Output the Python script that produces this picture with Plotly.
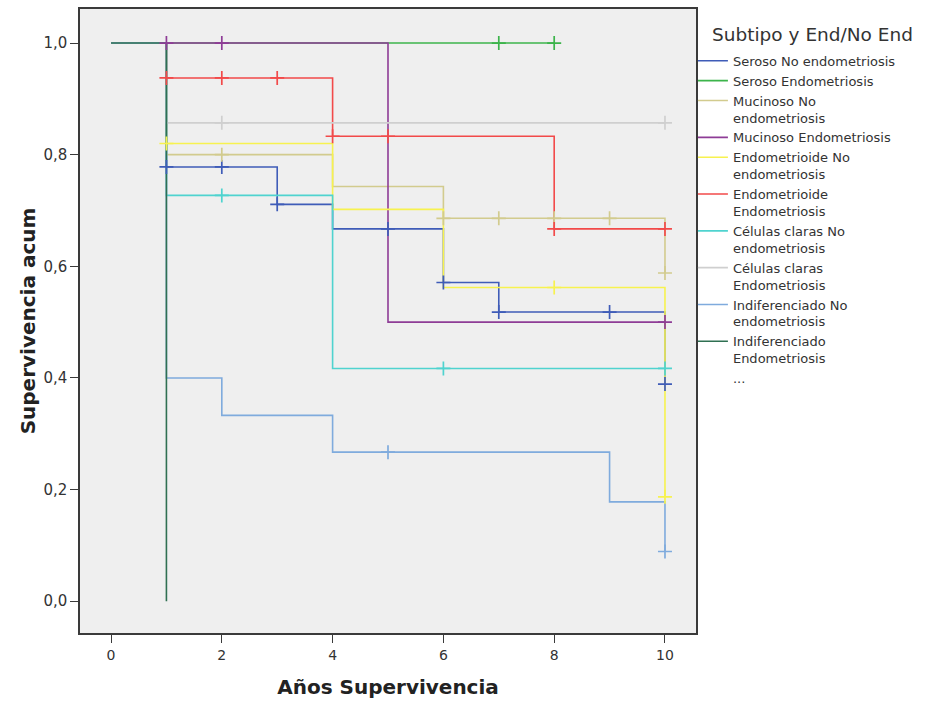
import plotly.graph_objects as go

# ---- data ----
series_names = [
    "Seroso No endometriosis",
    "Seroso Endometriosis",
    "Mucinoso No<br>endometriosis",
    "Mucinoso Endometriosis",
    "Endometrioide No<br>endometriosis",
    "Endometrioide<br>Endometriosis",
    "Células claras No<br>endometriosis",
    "Células claras<br>Endometriosis",
    "Indiferenciado No<br>endometriosis",
    "Indiferenciado<br>Endometriosis",
]
series_colors = [
    "#3f5cb8", "#3cb44b", "#d2cb8e", "#8e3c96", "#f7f24f",
    "#f24a4a", "#4fd3cf", "#cfcfcf", "#7fabdd", "#2f7052",
]
# step times and survival values (right-continuous steps)
step_times = [
    [0, 1, 3, 4, 6, 7, 10],
    [0, 8],
    [0, 1, 4, 6, 10],
    [0, 5, 10],
    [0, 1, 4, 6, 10],
    [0, 1, 4, 8, 10],
    [0, 1, 4, 10],
    [0, 1, 10],
    [0, 1, 2, 4, 9, 10],
    [0, 1],
]
step_surv = [
    [1.0, 0.778, 0.711, 0.667, 0.571, 0.518, 0.389],
    [1.0, 1.0],
    [1.0, 0.800, 0.743, 0.686, 0.588],
    [1.0, 0.500, 0.500],
    [1.0, 0.820, 0.702, 0.562, 0.187],
    [1.0, 0.9375, 0.833, 0.667, 0.667],
    [1.0, 0.727, 0.417, 0.417],
    [1.0, 0.857, 0.857],
    [1.0, 0.400, 0.333, 0.267, 0.178, 0.089],
    [1.0, 0.0],
]
censor_times = [
    [1, 2, 3, 5, 6, 7, 9, 10],
    [7, 8],
    [2, 6, 7, 8, 9, 10],
    [1, 2, 10],
    [1, 8, 10],
    [1, 2, 3, 4, 5, 8, 10],
    [2, 6, 10],
    [2, 10],
    [5, 10],
    [],
]
x_ticks = [0, 2, 4, 6, 8, 10]
y_ticks = [0.0, 0.2, 0.4, 0.6, 0.8, 1.0]
legend_title = "Subtipo y End/No End"


def surv_at(times, surv, t):
    val = surv[0]
    for ti, si in zip(times, surv):
        if ti <= t:
            val = si
    return val


fig = go.Figure()
for i, name in enumerate(series_names):
    fig.add_trace(go.Scatter(
        x=step_times[i], y=step_surv[i], mode="lines", line_shape="hv",
        line=dict(color=series_colors[i], width=1.6), name=name,
        legendrank=i + 1,
    ))
for i, name in enumerate(series_names):
    if censor_times[i]:
        fig.add_trace(go.Scatter(
            x=censor_times[i],
            y=[surv_at(step_times[i], step_surv[i], t) for t in censor_times[i]],
            mode="markers", showlegend=False,
            marker=dict(symbol="cross-thin", size=10,
                        line=dict(color=series_colors[i], width=1.7)),
        ))
fig.add_trace(go.Scatter(x=[None], y=[None], mode="lines", name="...",
                         line=dict(color="rgba(0,0,0,0)"), legendrank=20))

axis_common = dict(
    showline=True, mirror=True, linecolor="#3a3a3a", linewidth=1.5,
    ticks="outside", ticklen=8, tickcolor="#3a3a3a", tickwidth=1.2,
    showgrid=False, zeroline=False,
)
fig.update_xaxes(range=[-0.56, 10.56], tickvals=x_ticks,
                 tickfont=dict(family="DejaVu Sans", size=14, color="#333333"),
                 title=dict(text="<b>Años Supervivencia</b>", standoff=18,
                            font=dict(family="DejaVu Sans", size=20, color="#222")),
                 **axis_common)
fig.update_yaxes(range=[-0.057, 1.061], tickvals=y_ticks, tickformat=".1f",
                 tickfont=dict(family="DejaVu Sans", size=15, color="#333333"),
                 title=dict(text="<b>Supervivencia acum</b>", standoff=2,
                            font=dict(family="DejaVu Sans", size=20, color="#222")),
                 **axis_common)

fig.add_annotation(
    text=legend_title, xref="paper", yref="paper",
    x=1.0227, y=0.9585, xanchor="left", yanchor="middle", showarrow=False,
    font=dict(family="DejaVu Sans", size=18.5, color="#333"),
)

fig.update_layout(
    width=935, height=703,
    margin=dict(l=80, r=239, t=7, b=70),
    paper_bgcolor="white", plot_bgcolor="#efefef",
    separators=",.",
    legend=dict(
        x=0.995, y=0.941, xanchor="left", yanchor="top",
        font=dict(family="DejaVu Sans", size=13, color="#333"),
        valign="top", tracegroupgap=0, bgcolor="rgba(0,0,0,0)",
    ),
)

fig.write_html("out.html")
